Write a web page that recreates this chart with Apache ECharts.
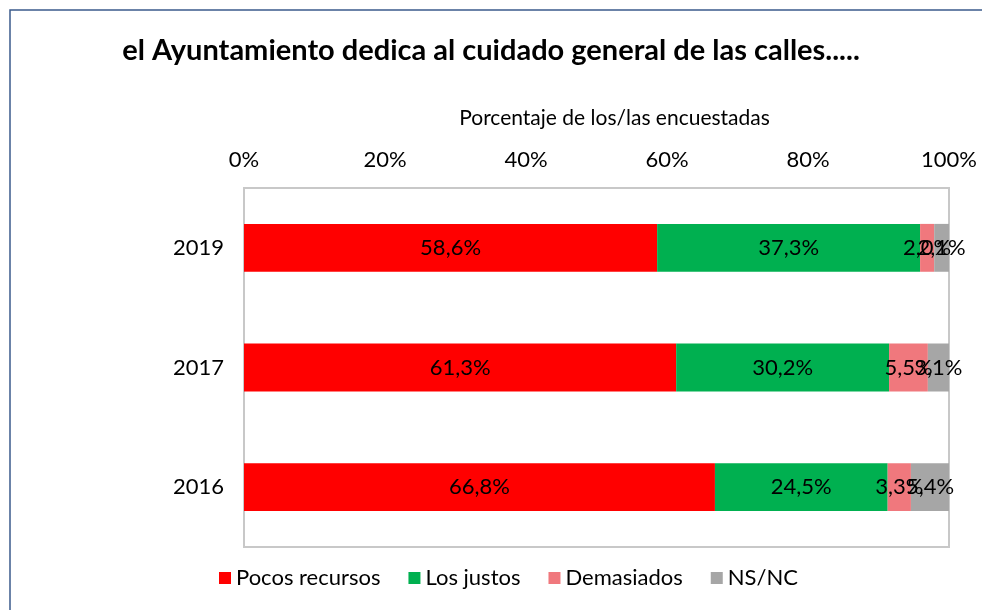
<!DOCTYPE html>
<html>
<head>
<meta charset="utf-8">
<script src="https://cdn.jsdelivr.net/npm/echarts@6/dist/echarts.min.js"></script>
<style>
  html, body { margin: 0; padding: 0; background: #fff; }
  #chart { width: 982px; height: 610px; }
</style>
</head>
<body>
<div id="chart"></div>
<script>
  // años, de abajo arriba
  var years = ['2016', '2017', '2019'];
  var pocos = [66.8, 61.3, 58.6];
  var justos = [24.5, 30.2, 37.3];
  var demasiados = [3.3, 5.5, 2.0];
  var nsnc = [5.4, 3.1, 2.1];
  var ticks = [0, 20, 40, 60, 80, 100];

  var font = 'Lato, "Open Sans", sans-serif';

  function pct(p) {
    return p.value.toFixed(1).replace('.', ',') + '%';
  }

  function serie(name, data, color) {
    return {
      name: name,
      type: 'bar',
      stack: 'Total',
      data: data,
      barWidth: '40%',
      itemStyle: { color: color },
      label: {
        show: true,
        position: 'inside',
        color: '#000',
        fontSize: 22,
        fontFamily: font,
        formatter: pct
      }
    };
  }

  var myChart = echarts.init(document.getElementById('chart'));
  myChart.setOption({
    animation: false,
    textStyle: { fontFamily: font },
    graphic: [{
      type: 'rect',
      shape: { x: 10, y: 10, width: 1000, height: 700 },
      style: { fill: 'none', stroke: '#3b5b8c', lineWidth: 1.5 }
    }],
    title: {
      text: 'el Ayuntamiento dedica al cuidado general de las calles.....',
      left: 'center',
      top: 31,
      textStyle: { fontSize: 29, fontWeight: 'bold', color: '#000', fontFamily: font }
    },
    legend: {
      bottom: 16,
      left: 214,
      itemWidth: 12,
      itemHeight: 12,
      itemGap: 28,
      icon: 'rect',
      textStyle: { fontSize: 22, color: '#000', fontFamily: font },
      data: ['Pocos recursos', 'Los justos', 'Demasiados', 'NS/NC']
    },
    grid: {
      left: 244,
      right: 33,
      top: 188,
      bottom: 63,
      show: true,
      borderColor: '#c8c8c8',
      borderWidth: 2
    },
    xAxis: {
      type: 'value',
      position: 'top',
      min: ticks[0],
      max: ticks[ticks.length - 1],
      interval: 20,
      name: 'Porcentaje de los/las encuestadas',
      nameLocation: 'middle',
      nameGap: 59,
      nameTextStyle: { fontSize: 21, color: '#000', fontFamily: font, padding: [0, 0, 0, 36] },
      axisLine: { show: false },
      axisTick: { show: false },
      splitLine: { show: false },
      axisLabel: { fontSize: 22, color: '#000', margin: 17, formatter: '{value}%' }
    },
    yAxis: {
      type: 'category',
      data: years,
      axisLine: { show: false },
      axisTick: { show: false },
      axisLabel: { fontSize: 22, color: '#000', margin: 20 }
    },
    series: [
      serie('Pocos recursos', pocos, '#ff0000'),
      serie('Los justos', justos, '#00b050'),
      serie('Demasiados', demasiados, '#f0787d'),
      serie('NS/NC', nsnc, '#a6a6a6')
    ]
  });
</script>
</body>
</html>
